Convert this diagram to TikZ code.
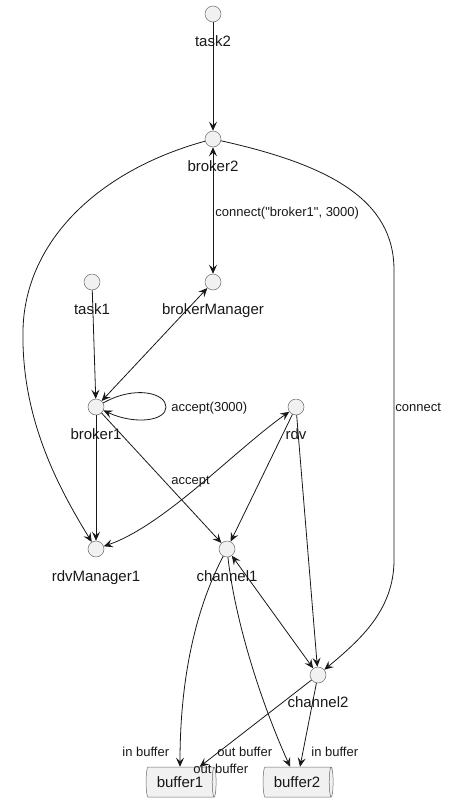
\documentclass[tikz,border=0pt]{standalone}
\usepackage{fontspec}
\setmainfont{Liberation Sans}[Ligatures=TeXOff]
\usetikzlibrary{arrows.meta, shapes.geometric}
\definecolor{umlfill}{HTML}{F1F1F1}
\definecolor{umlline}{HTML}{181818}

\begin{document}
\begin{tikzpicture}[x=1pt, y=-1pt, >={Stealth[length=9pt, width=8pt, inset=3.5pt]},
		color=umlline, line width=0.8pt]
	\useasboundingbox (0,0) rectangle (450,804);
	\tikzstyle{every node}=[inner sep=0pt]
	\tikzstyle{every label}=[font=\fontsize{15}{18}\selectfont, anchor=base, yshift=-24pt]
	\tikzstyle{agent}=[circle, draw=umlline!65, fill=umlfill, line width=0.5pt, minimum size=16pt, label distance=0pt]
	\tikzstyle{queue}=[cylinder, draw=umlline!65, fill=umlfill, line width=0.5pt, minimum width=30pt, minimum height=70pt, aspect=0.35, font=\fontsize{15}{18}\selectfont]
	\tikzstyle{lbl}=[font=\fontsize{13}{15}\selectfont, anchor=base west]

		% agents
		\node[agent, label=below:task2] (task2) at (213, 14) {};
		\node[agent, label=below:broker2] (broker2) at (213, 139) {};
		\node[agent, label=below:task1] (task1) at (92, 282) {};
		\node[agent, label=below:brokerManager] (brokerManager) at (213, 282) {};
		\node[agent, label=below:broker1] (broker1) at (96, 407) {};
		\node[agent, label=below:rdv] (rdv) at (296, 407) {};
		\node[agent, label=below:rdvManager1] (rdvManager1) at (96, 549) {};
		\node[agent, label=below:channel1] (channel1) at (227, 549) {};
		\node[agent, label=below:channel2] (channel2) at (318, 675) {};
		\node[queue] (buffer1) at (180, 782) {buffer1};
		\node[queue] (buffer2) at (297, 782) {buffer2};

		% connections
		\draw[->] (task2) -- (broker2);
		\draw[<->] (broker2) -- (brokerManager);
		\draw[->] (broker2) .. controls (100,170) and (25,240) .. (23,330) .. controls (21,420) and (60,490) .. (rdvManager1);
		\draw[->] (broker2) .. controls (330,165) and (394,200) .. (394,270) -- (394,560) .. controls (394,610) and (360,640) .. (channel2);
		\draw[->] (task1) -- (broker1);
		\draw[<->] (brokerManager) -- (broker1);
		\draw[->] (broker1) .. controls (135,385) and (166,393) .. (166,407) .. controls (166,421) and (135,425) .. (broker1);
		\draw[->] (broker1) -- (rdvManager1);
		\draw[->] (broker1) -- (channel1);
		\draw[<->] (rdvManager1) .. controls (165,525) and (235,450) .. (rdv);
		\draw[->] (rdv) -- (channel1);
		\draw[->] (rdv) -- (channel2);
		\draw[<->] (channel1) -- (channel2);
		\draw[->] (channel1) .. controls (195,610) and (180,680) .. (buffer1);
		\draw[->] (channel1) .. controls (235,620) and (260,700) .. (buffer2);
		\draw[->] (channel2) -- (buffer1);
		\draw[->] (channel2) -- (buffer2);

		% edge labels
		\node[lbl] (lconnectbroker) at (215, 216.5) {connect("broker1", 3000)};
		\node[lbl] (lconnect) at (395, 411.5) {connect};
		\node[lbl] (lacceptport) at (171, 411.5) {accept(3000)};
		\node[lbl] (laccept) at (171, 484.5) {accept};
		\node[lbl] (linbufA) at (122, 756.5) {in buffer};
		\node[lbl] (loutbufB) at (217, 756.5) {out buffer};
		\node[lbl] (loutbufA) at (193, 773.5) {out buffer};
		\node[lbl] (linbufB) at (311, 756.5) {in buffer};
\end{tikzpicture}
\end{document}
